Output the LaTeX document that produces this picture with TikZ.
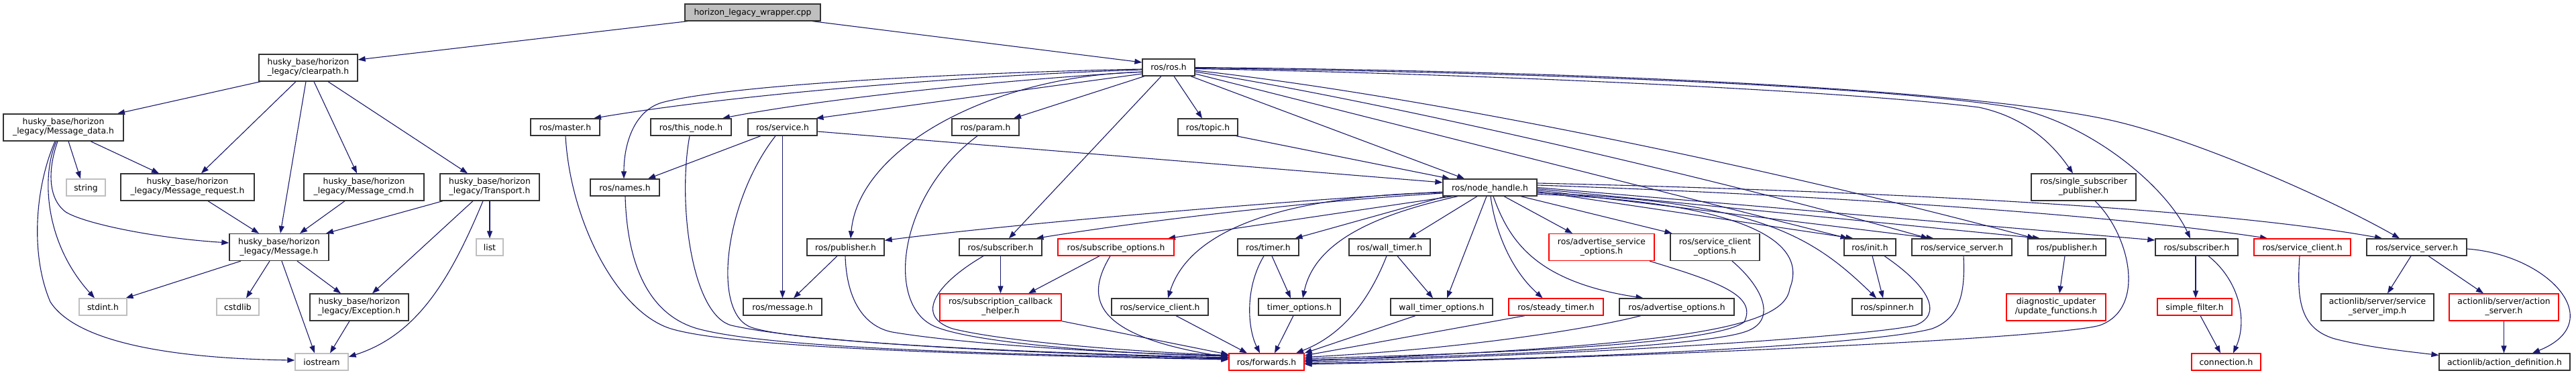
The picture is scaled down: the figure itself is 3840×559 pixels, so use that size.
\documentclass[tikz,border=0pt]{standalone}
\usepackage{fontspec}
\setmainfont{DejaVu Sans}
\usetikzlibrary{arrows.meta}
\pgfdeclarelayer{background}
\pgfsetlayers{background,main}
\definecolor{edgec}{HTML}{191970}
\definecolor{bordc}{HTML}{333333}
\definecolor{greyc}{HTML}{BFBFBF}
\definecolor{redc}{HTML}{FF0000}
\newcommand{\sx}{\rule[-4.3pt]{0pt}{14pt}}
\begin{document}
\begin{tikzpicture}[x=1pt,y=-1pt,
 box/.style={draw=bordc,line width=1.3pt,fill=white,inner sep=0pt,font=\fontsize{12.35}{14}\selectfont},
 one/.style={box,minimum height=25pt,text height=10.5pt,text depth=1.5pt},
 two/.style={box,minimum height=40pt,align=center},
 miss/.style={draw=greyc},
 trunc/.style={draw=redc},
 edg/.style={draw=edgec,line width=1.1pt,-{Triangle[length=11pt,width=8pt]}}]
\useasboundingbox (0,0) rectangle (3840,559);
\begin{pgfonlayer}{background}
\fill[white] (0,0) rectangle (3840,559);
\end{pgfonlayer}
% ---- nodes
\node[one,minimum width=202pt,fill=greyc] (wrap) at (1122,18.5) {horizon\_legacy\_wrapper.cpp};
\node[two,minimum width=147pt] (clear) at (459.5,101) {\sx husky\_base/horizon\\\sx \_legacy/clearpath.h};
\node[two,minimum width=179pt] (mdata) at (94.5,190) {\sx husky\_base/horizon\\\sx \_legacy/Message\_data.h};
\node[one,miss,minimum width=58pt] (str) at (128,279.5) {string};
\node[two,minimum width=199pt] (mreq) at (279.5,279) {\sx husky\_base/horizon\\\sx \_legacy/Message\_request.h};
\node[two,minimum width=179pt] (mcmd) at (542.5,279) {\sx husky\_base/horizon\\\sx \_legacy/Message\_cmd.h};
\node[two,minimum width=148pt] (msg) at (416,368.5) {\sx husky\_base/horizon\\\sx \_legacy/Message.h};
\node[one,miss,minimum width=71pt] (stdint) at (153.5,457.5) {stdint.h};
\node[one,miss,minimum width=63pt] (cstdlib) at (354.5,457.5) {cstdlib};
\node[two,minimum width=147pt] (exc) at (535.5,458) {\sx husky\_base/horizon\\\sx \_legacy/Exception.h};
\node[one,miss,minimum width=79pt] (iostr) at (479.5,539.5) {iostream};
\node[two,minimum width=148pt] (transp) at (730,279) {\sx husky\_base/horizon\\\sx \_legacy/Transport.h};
\node[one,miss,minimum width=40pt] (lst) at (730,368.5) {list};
\node[one,minimum width=103pt] (master) at (842.5,189.5) {ros/master.h};
\node[one,minimum width=120pt] (thisnode) at (1030,189.5) {ros/this\_node.h};
\node[one,minimum width=103pt] (service) at (1166.5,189.5) {ros/service.h};
\node[one,minimum width=103pt] (names) at (931.5,279.5) {ros/names.h};
\node[one,minimum width=117pt] (rosmsg) at (1166.5,457.5) {ros/message.h};
\node[one,minimum width=115pt] (pubL) at (1260.5,368.5) {ros/publisher.h};
\node[one,minimum width=78pt] (rosh) at (1742,100.5) {ros/ros.h};
\node[one,minimum width=100pt] (param) at (1469,189.5) {ros/param.h};
\node[one,minimum width=89pt] (topic) at (1800.5,189.5) {ros/topic.h};
\node[one,minimum width=123pt] (subL) at (1491.5,368.5) {ros/subscriber.h};
\node[one,trunc,minimum width=173pt] (subopts) at (1663.5,368.5) {ros/subscribe\_options.h};
\node[one,minimum width=91pt] (timer) at (1890.5,368.5) {ros/timer.h};
\node[two,trunc,minimum width=181pt] (cbh) at (1491.5,458) {\sx ros/subscription\_callback\\\sx \_helper.h};
\node[one,minimum width=144pt] (sclL) at (1729,457.5) {ros/service\_client.h};
\node[one,minimum width=122pt] (tmopts) at (1937,457.5) {timer\_options.h};
\node[one,trunc,minimum width=112pt] (fwd) at (1888,539.5) {ros/forwards.h};
\node[one,minimum width=140pt] (nh) at (2221,279.5) {ros/node\_handle.h};
\node[one,minimum width=121pt] (wt) at (2071.5,368.5) {ros/wall\_timer.h};
\node[one,minimum width=152pt] (wtopts) at (2149,457.5) {wall\_timer\_options.h};
\node[one,trunc,minimum width=141pt] (steady) at (2319.5,457.5) {ros/steady\_timer.h};
\node[two,trunc,minimum width=157pt] (aso) at (2387.5,368.5) {\sx ros/advertise\_service\\\sx \_options.h};
\node[two,minimum width=133pt] (sco) at (2556.5,368.5) {\sx ros/service\_client\\\sx \_options.h};
\node[one,minimum width=171pt] (advo) at (2499.5,457.5) {ros/advertise\_options.h};
\node[two,minimum width=156pt] (ssp) at (3106,279) {\sx ros/single\_subscriber\\\sx \_publisher.h};
\node[one,minimum width=77pt] (init) at (2787.5,368.5) {ros/init.h};
\node[one,minimum width=149pt] (ssM) at (2924.5,368.5) {ros/service\_server.h};
\node[one,minimum width=116pt] (pubR) at (3081,368.5) {ros/publisher.h};
\node[one,minimum width=104pt] (spin) at (2813,457.5) {ros/spinner.h};
\node[two,trunc,minimum width=148pt] (diag) at (3065,458) {\sx diagnostic\_updater\\\sx /update\_functions.h};
\node[one,minimum width=123pt] (subR) at (3274.5,368.5) {ros/subscriber.h};
\node[one,trunc,minimum width=144pt] (sclR) at (3432,368.5) {ros/service\_client.h};
\node[one,minimum width=149pt] (ssR) at (3602.5,368.5) {ros/service\_server.h};
\node[one,trunc,minimum width=111pt] (sfilt) at (3271.5,457.5) {simple\_filter.h};
\node[one,trunc,minimum width=103pt] (conn) at (3318.5,539.5) {connection.h};
\node[two,minimum width=168pt] (ssimp) at (3544,458) {\sx actionlib/server/service\\\sx \_server\_imp.h};
\node[two,trunc,minimum width=163pt] (asrv) at (3732.5,458) {\sx actionlib/server/action\\\sx \_server.h};
\node[one,minimum width=195pt] (adef) at (3733.5,539.5) {actionlib/action\_definition.h};
% ---- edges
\begin{pgfonlayer}{background}
\draw[edg] ([xshift=-97pt]wrap.south) -- ([yshift=12pt]clear.east);
\draw[edg] ([xshift=89pt]wrap.south) -- ([yshift=7.5pt]rosh.west);
\draw[edg] ([xshift=-71pt]clear.south) -- ([xshift=80.5pt]mdata.north);
\draw[edg] ([xshift=-18.5pt]clear.south) -- ([xshift=20.5pt]mreq.north);
\draw[edg] ([xshift=-3.5pt]clear.south) -- ([xshift=2pt]msg.north);
\draw[edg] ([xshift=8.5pt]clear.south) -- ([xshift=-10.5pt]mcmd.north);
\draw[edg] ([xshift=29.5pt]clear.south) -- ([xshift=-33pt]transp.north);
\draw[edg] ([xshift=7.5pt]mdata.south) -- ([xshift=-8pt]str.north);
\draw[edg] ([xshift=40.5pt]mdata.south) -- ([xshift=-42.5pt]mreq.north);
\draw[edg] ([xshift=-8.5pt]mdata.south) .. controls (72,250) and (70,295) .. (98,316) .. controls (125,333) and (230,355) .. ([yshift=6.5pt]msg.west);
\draw[edg] ([xshift=-10.5pt]mdata.south) .. controls (62,260) and (65,360) .. ([xshift=-12.5pt]stdint.north);
\draw[edg] ([xshift=-12.5pt]mdata.south) .. controls (52,280) and (45,380) .. (75,450) .. controls (120,520) and (300,535) .. ([yshift=2.5pt]iostr.west);
\draw[edg] ([xshift=30.5pt]mreq.south) -- ([xshift=-30pt]msg.north);
\draw[edg] ([xshift=-28.5pt]mcmd.south) -- ([xshift=31pt]msg.north);
\draw[edg] ([xshift=-70pt]transp.south) -- ([xshift=70pt]msg.north);
\draw[edg] ([xshift=-25pt]transp.south) -- ([xshift=19.5pt]exc.north);
\draw[edg] ([xshift=-10pt]transp.south) .. controls (670,420) and (620,500) .. ([yshift=7.5pt]iostr.east);
\draw[edg] (transp.south) -- (lst.north);
\draw[edg] ([xshift=-57pt]msg.south) -- ([xshift=34pt]stdint.north);
\draw[edg] ([xshift=-14pt]msg.south) -- ([xshift=12.5pt]cstdlib.north);
\draw[edg] ([xshift=4pt]msg.south) -- ([xshift=-10.5pt]iostr.north);
\draw[edg] ([xshift=27pt]msg.south) -- ([xshift=-27.5pt]exc.north);
\draw[edg] ([xshift=-14.5pt]exc.south) -- ([xshift=12.5pt]iostr.north);
% ros.h
\draw[edg] ([yshift=-3.5pt]rosh.west) .. controls (1450,112) and (1100,140) .. ([xshift=42.5pt]master.north);
\draw[edg] ([yshift=-2.5pt]rosh.west) .. controls (1450,108) and (1100,125) .. (990,152) .. controls (945,163) and (930,215) .. ([xshift=-1.5pt]names.north);
\draw[edg] ([yshift=-6.5pt]rosh.west) .. controls (1450,122) and (1200,152) .. ([xshift=47pt]thisnode.north);
\draw[edg] ([yshift=-9.5pt]rosh.west) -- ([xshift=50pt]service.north);
\draw[edg] ([xshift=-36pt]rosh.south) -- ([xshift=42pt]param.north);
\draw[edg] ([xshift=8pt]rosh.south) -- ([xshift=-8.5pt]topic.north);
\draw[edg] ([yshift=-7pt]rosh.west) .. controls (1480,112) and (1280,220) .. ([xshift=7.5pt]pubL.north);
\draw[edg] ([xshift=-11pt]rosh.south) -- ([xshift=12.5pt]subL.north);
\draw[edg] ([xshift=33pt]rosh.south) -- ([xshift=-38pt]nh.north);
\draw[edg] ([yshift=-2pt]rosh.east) .. controls (2200,110) and (2750,135) .. (2950,160) .. controls (3020,175) and (3060,215) .. ([xshift=-16pt]ssp.north);
\draw[edg] ([yshift=-1pt]rosh.east) .. controls (2300,108) and (2800,128) .. (3000,160) .. controls (3120,185) and (3230,280) .. ([xshift=-9.5pt]subR.north);
\draw[edg] (rosh.east) .. controls (2400,106) and (2950,135) .. (3150,180) .. controls (3280,210) and (3480,300) .. ([xshift=-25.5pt]ssR.north);
\draw[edg] ([yshift=-9.5pt]rosh.east) -- ([xshift=-33pt]init.north);
\draw[edg] ([yshift=-6.5pt]rosh.east) .. controls (2000,140) and (2500,250) .. ([xshift=-50pt]ssM.north);
\draw[edg] ([yshift=-4.5pt]rosh.east) .. controls (2100,140) and (2600,240) .. ([xshift=-48pt]pubR.north);
\draw[edg] ([xshift=42pt]topic.south) -- ([xshift=-60pt]nh.north);
\draw[edg] ([yshift=-6.5pt]service.east) -- ([yshift=7.5pt]nh.west);
\draw[edg] ([xshift=-32.5pt]service.south) -- ([xshift=34.5pt]names.north);
\draw[edg] (service.south) -- (rosmsg.north);
\draw[edg] ([xshift=-10.5pt]service.south) .. controls (1080,300) and (1060,467) .. (1120,488) .. controls (1180,509) and (1500,525) .. ([yshift=6.5pt]fwd.west);
\draw[edg] ([xshift=0.5pt]master.south) .. controls (850,330) and (920,465) .. (1000,490) .. controls (1100,520) and (1500,530) .. ([yshift=3.5pt]fwd.west);
\draw[edg] ([xshift=0.5pt]names.south) .. controls (935,400) and (970,470) .. (1040,490) .. controls (1150,520) and (1500,528) .. ([yshift=4.5pt]fwd.west);
\draw[edg] ([xshift=-2pt]thisnode.south) .. controls (1010,300) and (1030,468) .. (1090,485) .. controls (1200,510) and (1500,526) .. ([yshift=5.5pt]fwd.west);
\draw[edg] ([xshift=-12.5pt]pubL.south) -- ([xshift=16.5pt]rosmsg.north);
\draw[edg] ([xshift=-0.5pt]pubL.south) .. controls (1262,450) and (1290,487) .. (1330,495) .. controls (1430,512) and (1650,527) .. ([yshift=9.5pt]fwd.west);
\draw[edg] ([xshift=-12pt]param.south) .. controls (1340,290) and (1320,450) .. (1390,485) .. controls (1440,510) and (1650,527) .. ([yshift=8.5pt]fwd.west);
\draw[edg] ([xshift=-25.5pt]subL.south) .. controls (1400,420) and (1360,470) .. (1420,490) .. controls (1500,510) and (1700,525) .. ([yshift=10pt]fwd.west);
\draw[edg] (subL.south) -- (cbh.north);
\draw[edg] ([xshift=-24.5pt]subopts.south) -- ([xshift=41.5pt]cbh.north);
\draw[edg] ([xshift=-8.5pt]subopts.south) .. controls (1620,440) and (1620,500) .. ([yshift=7pt]fwd.west);
\draw[edg] (cbh.south east) -- ([yshift=11pt]fwd.west);
\draw[edg] ([xshift=24pt]sclL.south) -- ([xshift=-29pt]fwd.north);
\draw[edg] ([xshift=-6.5pt]timer.south) .. controls (1855,430) and (1860,490) .. ([xshift=-10pt]fwd.north);
\draw[edg] ([xshift=5.5pt]timer.south) -- ([xshift=-13pt]tmopts.north);
\draw[edg] ([xshift=-9pt]tmopts.south) -- ([xshift=12pt]fwd.north);
% node_handle
\draw[edg] ([yshift=-6.5pt]nh.west) .. controls (1900,300) and (1500,335) .. ([yshift=-3pt]pubL.north east);
\draw[edg] ([yshift=-8.5pt]nh.west) .. controls (1950,300) and (1700,330) .. ([xshift=53pt]subL.north);
\draw[edg] ([xshift=-56pt]nh.south) -- ([xshift=77.5pt]subopts.north);
\draw[edg] ([yshift=-7.5pt]nh.west) .. controls (1980,290) and (1780,320) .. ([xshift=12pt]sclL.north);
\draw[edg] ([xshift=-66pt]nh.south) -- ([xshift=40pt]timer.north);
\draw[edg] ([xshift=-48pt]nh.south) .. controls (2050,320) and (1960,360) .. ([xshift=5pt]tmopts.north);
\draw[edg] ([xshift=-19pt]nh.south) -- ([xshift=28.5pt]wt.north);
\draw[edg] ([xshift=-5pt]nh.south) -- ([xshift=8pt]wtopts.north);
\draw[edg] ([xshift=1pt]nh.south) .. controls (2228,340) and (2250,400) .. ([xshift=-20pt]steady.north);
\draw[edg] ([xshift=5pt]nh.south) .. controls (2250,360) and (2290,420) .. ([xshift=-50pt]advo.north);
\draw[edg] ([xshift=21pt]nh.south) -- ([xshift=-43.5pt]aso.north);
\draw[edg] ([xshift=46pt]nh.south) -- ([xshift=-64pt]sco.north);
\draw[edg] ([yshift=-6pt]nh.east) -- ([xshift=-25pt]init.north);
\draw[edg] ([yshift=-4pt]nh.east) -- ([xshift=-42pt]ssM.north);
\draw[edg] ([yshift=-2pt]nh.east) -- ([xshift=-40pt]pubR.north);
\draw[edg] (nh.east) -- ([yshift=10.5pt]subR.west);
\draw[edg] ([yshift=3.5pt]nh.east) .. controls (2700,290) and (3150,320) .. ([xshift=-52pt]sclR.north);
\draw[edg] ([yshift=6.5pt]nh.east) .. controls (2800,285) and (3300,310) .. ([xshift=-51.5pt]ssR.north);
\draw[edg] ([yshift=-8pt]nh.east) .. controls (2620,300) and (2700,350) .. ([xshift=-16pt]spin.north);
\draw[edg] ([yshift=-10pt]nh.east) .. controls (2570,300) and (2700,350) .. (2668,430) .. controls (2660,490) and (2500,515) .. ([yshift=1.5pt]fwd.east);
\draw[edg] ([xshift=-4.5pt]wt.south) .. controls (2040,450) and (2000,500) .. ([xshift=44pt]fwd.north);
\draw[edg] ([xshift=11.5pt]wt.south) -- ([xshift=-13pt]wtopts.north);
\draw[edg] ([xshift=-39pt]wtopts.south) -- (fwd.north east);
\draw[edg] ([xshift=-46.5pt]steady.south) -- ([yshift=9.5pt]fwd.east);
\draw[edg] ([xshift=-53.5pt]advo.south) .. controls (2350,495) and (2150,522) .. ([yshift=7pt]fwd.east);
\draw[edg] ([xshift=71.5pt]aso.south) .. controls (2560,420) and (2620,440) .. (2600,480) .. controls (2560,510) and (2300,525) .. ([yshift=5pt]fwd.east);
\draw[edg] ([xshift=25.5pt]sco.south) .. controls (2630,430) and (2650,480) .. (2600,495) .. controls (2550,512) and (2300,530) .. ([yshift=3pt]fwd.east);
\draw[edg] ([xshift=21.5pt]init.south) .. controls (2880,430) and (2895,470) .. (2855,485) .. controls (2790,500) and (2400,528) .. (fwd.east);
\draw[edg] ([xshift=3.5pt]init.south) -- ([xshift=-6pt]spin.north);
\draw[edg] ([xshift=2.5pt]ssM.south) .. controls (2930,440) and (2920,475) .. (2880,490) .. controls (2800,512) and (2400,535) .. ([yshift=-2pt]fwd.east);
\draw[edg] ([xshift=17pt]ssp.south) .. controls (3175,350) and (3200,460) .. (3130,485) .. controls (3060,505) and (2400,535) .. ([yshift=-3.5pt]fwd.east);
\draw[edg] ([xshift=-3pt]pubR.south) -- ([xshift=5pt]diag.north);
\draw[edg] ([xshift=-1.5pt]subR.south) -- ([xshift=1.5pt]sfilt.north);
\draw[edg] ([xshift=17.5pt]subR.south) .. controls (3340,420) and (3350,480) .. ([xshift=10.5pt]conn.north);
\draw[edg] ([xshift=8.5pt]sfilt.south) -- ([xshift=-8.5pt]conn.north);
\draw[edg] ([xshift=-4pt]sclR.south) .. controls (3423,450) and (3430,490) .. (3480,505) .. controls (3530,518) and (3590,524) .. ([yshift=10pt]adef.west);
\draw[edg] ([xshift=-8.5pt]ssR.south) -- ([xshift=15pt]ssimp.north);
\draw[edg] ([xshift=17.5pt]ssR.south) -- ([xshift=-30.5pt]asrv.north);
\draw[edg] ([yshift=-2.5pt]ssR.east) .. controls (3800,380) and (3890,480) .. ([xshift=41.5pt]adef.north);
\draw[edg] (asrv.south) -- ([xshift=-1pt]adef.north);
\end{pgfonlayer}
\end{tikzpicture}
\end{document}
